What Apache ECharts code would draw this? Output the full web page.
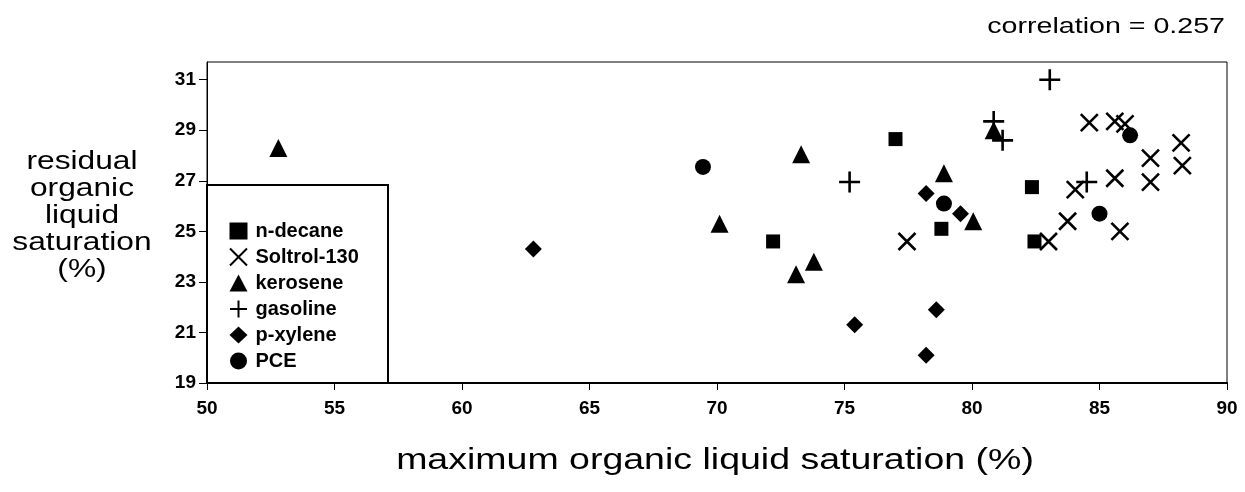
<!DOCTYPE html>
<html><head><meta charset="utf-8">
<script src="https://cdn.jsdelivr.net/npm/echarts@6/dist/echarts.min.js"></script>
<style>html,body{margin:0;padding:0;background:#fff}#c{width:1245px;height:492px}</style>
</head><body><div id="c"></div>
<script>
const seriesNames = ['n-decane', 'Soltrol-130', 'kerosene', 'gasoline', 'p-xylene', 'PCE'];
const nDecane = [[77.0, 28.65], [72.2, 24.6], [78.8, 25.1], [82.35, 26.75], [82.45, 24.6]];
const soltrol = [[77.45, 24.6], [83.0, 24.6], [83.75, 25.4], [84.05, 26.65], [84.6, 29.3], [85.6, 29.35], [86.0, 29.25], [85.6, 27.1], [85.8, 25.0], [87.0, 27.9], [87.0, 26.95], [88.2, 28.5], [88.25, 27.6]];
const kerosene = [[52.8, 28.3], [73.3, 28.05], [70.1, 25.3], [73.1, 23.3], [73.8, 23.8], [78.9, 27.3], [80.05, 25.4], [80.85, 29.0]];
const gasoline = [[83.05, 31.0], [80.85, 29.35], [81.2, 28.6], [75.2, 26.95], [84.5, 26.95]];
const pXylene = [[62.8, 24.3], [78.2, 26.5], [79.55, 25.7], [75.4, 21.3], [78.6, 21.9], [78.2, 20.1]];
const pce = [[69.45, 27.55], [78.9, 26.1], [86.2, 28.8], [85.0, 25.7]];
const xTicks = [50, 55, 60, 65, 70, 75, 80, 85, 90];
const yTicks = [19, 21, 23, 25, 27, 29, 31];
const xTitle = 'maximum organic liquid saturation (%)';
const yTitle = 'residual\norganic\nliquid\nsaturation\n(%)';
const correlationText = 'correlation = 0.257';

const FONT = '"Liberation Sans", Arial, sans-serif';
const chart = echarts.init(document.getElementById('c'));
const strokeStyle = {color: 'rgba(0,0,0,0)', borderColor: '#000', borderWidth: 2.6, opacity: 1};
const fillStyle = {color: '#000', opacity: 1};
const mk = (name, data, symbol, size, style) => ({
  name, type: 'scatter', data, symbol, symbolSize: size, itemStyle: style,
  emphasis: {disabled: true}, silent: true
});
chart.setOption({
  animation: false,
  grid: {left: 207, right: 18, top: 62, bottom: 109, show: true, borderColor: '#000', borderWidth: 1},
  xAxis: {
    type: 'value', min: xTicks[0], max: xTicks[xTicks.length - 1], interval: 5,
    splitLine: {show: false},
    axisLine: {onZero: false, lineStyle: {color: '#000', width: 2}},
    axisTick: {inside: false, length: 7, lineStyle: {color: '#000', width: 1}},
    axisLabel: {color: '#000', fontSize: 19, fontWeight: 'bold', fontFamily: FONT, margin: 16}
  },
  yAxis: {
    type: 'value', min: yTicks[0], max: 31.7, interval: 2,
    splitLine: {show: false},
    axisLine: {onZero: false, lineStyle: {color: '#000', width: 1}},
    axisTick: {inside: false, length: 8, lineStyle: {color: '#000', width: 1},
      customValues: yTicks},
    axisLabel: {color: '#000', fontSize: 19, fontWeight: 'bold', fontFamily: FONT, margin: 11,
      customValues: yTicks}
  },
  legend: {
    orient: 'vertical', left: 224, top: 216, itemGap: 6, itemWidth: 18, itemHeight: 17,
    data: seriesNames,
    textStyle: {color: '#000', fontSize: 20, fontWeight: 'bold', fontFamily: FONT, padding: [0, 0, 0, 3]},
    selectedMode: false
  },
  graphic: [
    {type: 'rect', x: 207, y: 185, shape: {width: 181, height: 198}, z: 0,
      style: {fill: '#fff', stroke: '#000', lineWidth: 2}},
    {type: 'text', x: 1225, y: 27, scaleX: 1.3, style: {text: correlationText, fill: '#000', fontSize: 22,
      fontFamily: FONT, align: 'right', verticalAlign: 'middle'}},
    {type: 'text', x: 715, y: 461, scaleX: 1.25, style: {text: xTitle, fill: '#000', fontSize: 30,
      fontFamily: FONT, align: 'center', verticalAlign: 'middle'}},
    {type: 'text', x: 82, y: 216, scaleX: 1.22, style: {text: yTitle, fill: '#000', fontSize: 26,
      lineHeight: 27, fontFamily: FONT, align: 'center', verticalAlign: 'middle'}}
  ],
  series: [
    mk(seriesNames[0], nDecane, 'rect', 14, fillStyle),
    mk(seriesNames[1], soltrol, 'path://M0,0L10,10M10,0L0,10', 17, strokeStyle),
    mk(seriesNames[2], kerosene, 'triangle', 18, fillStyle),
    mk(seriesNames[3], gasoline, 'path://M5,0L5,10M0,5L10,5', 21, strokeStyle),
    mk(seriesNames[4], pXylene, 'diamond', 17, fillStyle),
    mk(seriesNames[5], pce, 'circle', 16, fillStyle)
  ]
});
</script></body></html>
